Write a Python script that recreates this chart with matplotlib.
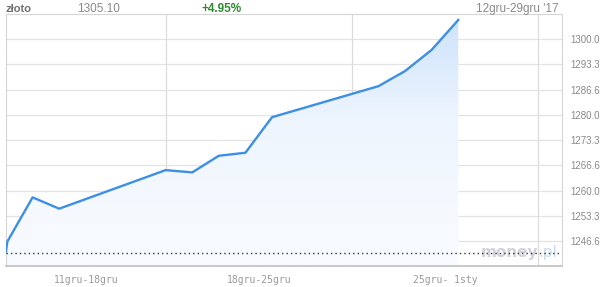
import matplotlib
matplotlib.use("Agg")
from matplotlib import pyplot as plt
from matplotlib.colors import LinearSegmentedColormap
import numpy as np

# dni od 12 gru 2017 i kurs zlota
dni = [0.0, 0.05, 1, 2, 6, 7, 8, 9, 10, 14, 15, 16, 17]
kurs = [1243.9, 1246.5, 1258.2, 1255.2, 1265.4, 1264.8, 1269.2, 1270.0,
        1279.4, 1287.6, 1291.6, 1297.2, 1305.1]
poprzednie = 1243.54  # zamkniecie odniesienia (linia kropkowana)

tygodnie = ["11gru-18gru", "18gru-25gru", "25gru- 1sty"]
granice = [0, 6, 13, 20]  # 18 gru, 25 gru, 1 sty
y_min, y_max = 1240.0, 1306.6667
kroki = np.linspace(y_min, y_max, 11)

fig = plt.figure(figsize=(6, 2.87), dpi=100)
ax = fig.add_axes([0.01, 0.0725, 0.9267, 0.8785])
x_max = 20.9
ax.set_xlim(0, x_max)
ax.set_ylim(y_min, y_max)

# siatka
for v in kroki[1:-1]:
    ax.axhline(v, color="#e3e3e3", lw=0.9, zorder=1)
for g in granice[1:]:
    ax.axvline(g, color="#dcdcdc", lw=0.9, zorder=1)

# wypelnienie gradientem
poly = ax.fill_between(dni, kurs, y_min, color="none", lw=0)
cmap = LinearSegmentedColormap.from_list("g", ["#f8fbff", "#eef5fe", "#cde3fb"])
grad = np.linspace(0, 1, 256).reshape(-1, 1) ** 1.3
im = ax.imshow(grad, extent=[0, x_max, y_min, max(kurs)], origin="lower",
               aspect="auto", cmap=cmap, zorder=2)
im.set_clip_path(poly.get_paths()[0], transform=ax.transData)

ax.plot(dni, kurs, color="#3d8fe6", lw=1.7, zorder=4, solid_joinstyle="round")
ax.axhline(poprzednie, color="#333333", lw=1.0, ls=(0, (1, 2.2)), zorder=5)

for s in ["left", "top", "right"]:
    ax.spines[s].set_color("#d5d5d5")
    ax.spines[s].set_linewidth(0.8)
ax.spines["bottom"].set_color("#c8c8c8")
ax.spines["bottom"].set_linewidth(1.4)

ax.set_xticks([])
ax.yaxis.tick_right()
ax.set_yticks(kroki[1:-1])
ax.set_yticklabels(["%.1f" % (np.floor(v * 10 + 1e-6) / 10) for v in kroki[1:-1]],
                   fontsize=7, color="#8a8a8a", family="Liberation Sans")
ax.tick_params(axis="y", length=0, pad=6)

for i, t in enumerate(tygodnie):
    srodek = (granice[i] + granice[i + 1]) / 2
    ax.text(srodek, -0.055, t, transform=ax.get_xaxis_transform(), ha="center",
            va="center", fontsize=7, color="#9a9a9a", family="DejaVu Sans Mono")

# znak wodny
ax.text(0.957, 0.025, "money", transform=ax.transAxes, ha="right", va="bottom",
        fontsize=11, fontweight="bold", color="#d2d2dc", family="DejaVu Sans",
        zorder=3)
ax.text(0.957, 0.025, ".pl", transform=ax.transAxes, ha="left", va="bottom",
        fontsize=11, color="#c9dcef", family="DejaVu Sans", zorder=3)

# naglowek
fig.text(6 / 600, 1 - 9 / 287, "złoto", fontsize=8, fontweight="bold",
         color="#707070", va="center", family="Liberation Sans")
fig.text(77 / 600, 1 - 9 / 287, "1305.10", fontsize=8.5, color="#8a8a8a",
         va="center", family="Liberation Sans")
fig.text(202 / 600, 1 - 9 / 287, "+4.95%", fontsize=8.5, fontweight="bold",
         color="#2e8b2e", va="center", family="Liberation Sans")
fig.text(559 / 600, 1 - 9 / 287, "12gru-29gru '17", fontsize=8.5,
         color="#8a8a8a", va="center", ha="right", family="Liberation Sans")

fig.savefig("out.png", dpi=100)
